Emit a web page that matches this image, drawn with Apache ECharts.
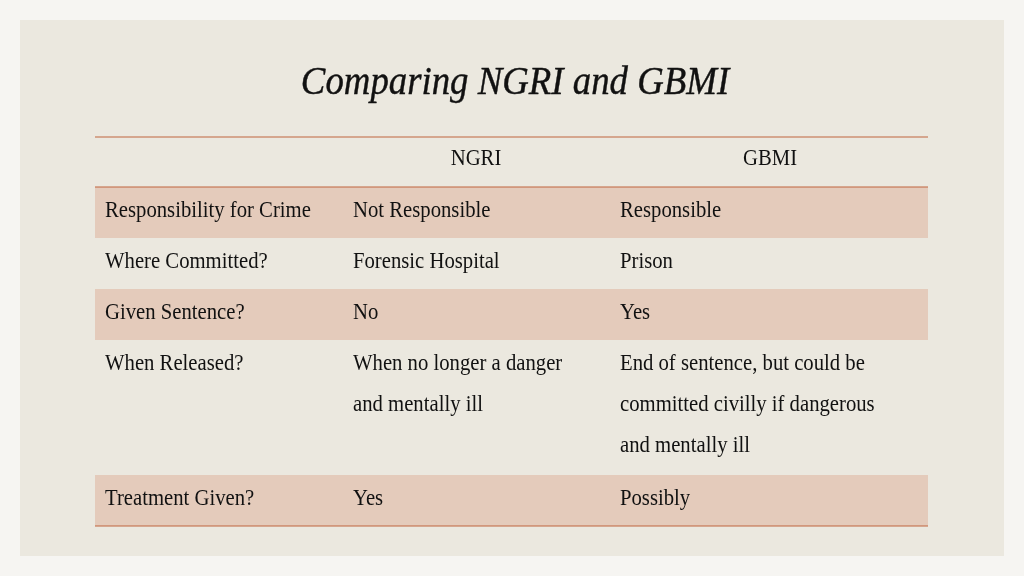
<!DOCTYPE html>
<html><head><meta charset="utf-8">
<script src="https://cdn.jsdelivr.net/npm/echarts@6/dist/echarts.min.js"></script>
<style>html,body{margin:0;padding:0;background:#f6f5f2}#c{width:1024px;height:576px}</style>
</head><body><div id="c"></div>
<script>
const title = "Comparing NGRI and GBMI";
const headers = ["", "NGRI", "GBMI"];
const rowLabels = ["Responsibility for Crime", "Where Committed?", "Given Sentence?", "When Released?", "Treatment Given?"];
const ngriValues = ["Not Responsible", "Forensic Hospital", "No", "When no longer a danger\nand mentally ill", "Yes"];
const gbmiValues = ["Responsible", "Prison", "Yes", "End of sentence, but could be\ncommitted civilly if dangerous\nand mentally ill", "Possibly"];

const chart = echarts.init(document.getElementById('c'));
const X0 = 95, X1 = 928, colX = [105, 353, 620], hdrX = [0, 476, 770];
const line = '#c0653f', shade = '#e4cbbb', font = '"Liberation Serif", "DejaVu Serif", serif';
const SX = 0.9;
const g = [];
g.push({type:'rect', shape:{x:20,y:20,width:984,height:536}, style:{fill:'#ebe8df'}});
g.push({type:'text', x:515, y:83, scaleX:0.92, style:{text:title, font:'italic 40px '+font, fill:'#111', align:'center', verticalAlign:'middle', stroke:'#111', lineWidth:0.4}});
let y = 137;
g.push({type:'line', shape:{x1:X0,y1:y,x2:X1,y2:y}, style:{stroke:line,lineWidth:1.2}, z:5});
[1,2].forEach(i=>g.push({type:'text', x:hdrX[i], y:y+22, scaleX:SX, style:{text:headers[i], font:'23px '+font, fill:'#111', align:'center', verticalAlign:'middle'}}));
y = 187;
g.push({type:'line', shape:{x1:X0,y1:y,x2:X1,y2:y}, style:{stroke:line,lineWidth:1.2}, z:5});
rowLabels.forEach((lab,i)=>{
  const lines = Math.max(ngriValues[i].split('\n').length, gbmiValues[i].split('\n').length);
  const h = lines===1 ? 51 : 51 + (lines-1)*41 + 2;
  if (i%2===0) g.push({type:'rect', shape:{x:X0,y:y,width:X1-X0,height:h}, style:{fill:shade}});
  [lab, ngriValues[i], gbmiValues[i]].forEach((t,c)=>{
    g.push({type:'text', x:colX[c], y:y+3, scaleX:SX, z:4, style:{text:t, font:'23px '+font, lineHeight:41, fill:'#111', align:'left', verticalAlign:'top'}});
  });
  y += h;
});
g.push({type:'line', shape:{x1:X0,y1:y,x2:X1,y2:y}, style:{stroke:line,lineWidth:1.2}, z:5});
chart.setOption({graphic:g});
</script></body></html>
